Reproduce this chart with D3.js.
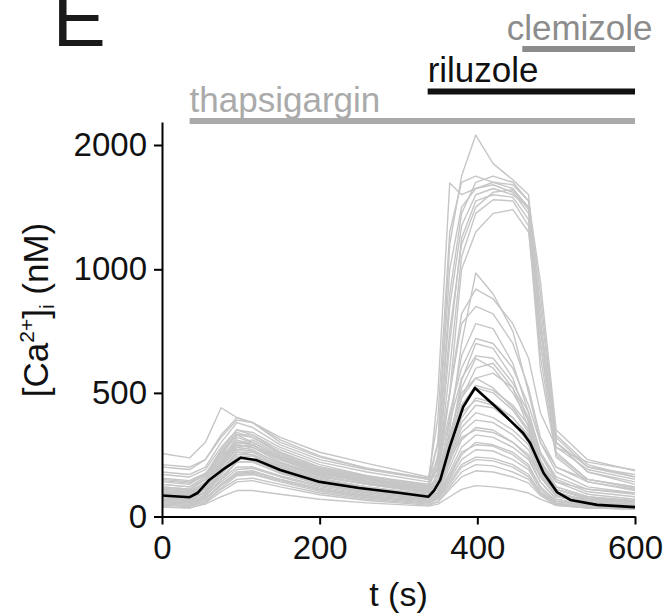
<!DOCTYPE html>
<html>
<head>
<meta charset="utf-8">
<script src="https://cdn.jsdelivr.net/npm/d3@7"></script>
<style>
  body { margin: 0; background: #fff; }
  svg { display: block; }
</style>
</head>
<body>
<svg id="chart" width="667" height="616"></svg>
<script>
// sample times (s) shared by every single-cell trace
const timePoints = [0, 35, 55, 75, 95, 115, 150, 200, 260, 338, 350, 365, 380, 398, 420, 445, 465, 480, 500, 540, 600];

// [Ca2+]i (nM) for cells with a large riluzole response
const bigCells = [
  [150, 140, 170, 260, 330, 300, 240, 190, 160, 130, 300, 1200, 1750, 2080, 1850, 1720, 1600, 800, 300, 200, 170],
  [120, 110, 150, 240, 310, 290, 230, 180, 150, 120, 500, 1695, 1600, 1650, 1700, 1650, 1500, 750, 280, 190, 150],
  [100, 95, 130, 220, 290, 280, 220, 170, 140, 110, 250, 900, 1450, 1700, 1750, 1700, 1550, 900, 320, 200, 160],
  [180, 170, 200, 300, 380, 360, 290, 230, 190, 150, 300, 1000, 1500, 1650, 1680, 1620, 1450, 700, 300, 180, 130],
  [80, 75, 110, 200, 280, 270, 210, 160, 130, 100, 180, 700, 1250, 1550, 1600, 1580, 1400, 650, 250, 150, 115],
  [130, 120, 160, 260, 340, 320, 260, 200, 160, 125, 230, 850, 1350, 1600, 1650, 1600, 1500, 850, 330, 210, 160],
  [90, 85, 120, 210, 300, 290, 230, 175, 140, 105, 170, 600, 1100, 1450, 1560, 1550, 1350, 600, 240, 140, 105],
  [200, 190, 230, 330, 400, 380, 300, 240, 195, 155, 400, 1300, 1700, 1750, 1700, 1680, 1550, 950, 350, 230, 185],
  [70, 65, 100, 180, 260, 250, 200, 150, 120, 90, 150, 500, 1000, 1300, 1450, 1480, 1300, 700, 260, 150, 120],
  [110, 100, 140, 230, 320, 300, 240, 185, 150, 115, 210, 750, 1200, 1500, 1620, 1640, 1480, 780, 300, 180, 140]
];

// cells with a medium riluzole response
const midCells = [
  [60, 55, 90, 170, 240, 230, 180, 130, 100, 75, 120, 350, 700, 985, 900, 750, 500, 300, 180, 120, 95],
  [140, 130, 170, 270, 350, 330, 260, 200, 165, 130, 200, 500, 780, 850, 820, 700, 520, 320, 200, 140, 110],
  [95, 90, 125, 210, 290, 280, 220, 165, 130, 95, 130, 400, 650, 780, 760, 620, 420, 260, 150, 100, 80],
  [170, 160, 190, 280, 350, 340, 280, 220, 180, 140, 190, 420, 600, 720, 700, 600, 450, 300, 200, 150, 120],
  [75, 70, 100, 180, 250, 250, 200, 150, 115, 85, 110, 300, 550, 700, 680, 560, 380, 220, 120, 80, 60],
  [120, 110, 150, 250, 330, 320, 255, 195, 155, 120, 150, 380, 560, 650, 640, 540, 420, 260, 160, 110, 90],
  [55, 50, 80, 150, 220, 220, 175, 130, 100, 70, 100, 280, 480, 600, 620, 520, 360, 200, 110, 70, 55],
  [255, 237, 300, 440, 400, 380, 320, 260, 215, 160, 220, 500, 820, 920, 880, 780, 640, 420, 280, 220, 188],
  [100, 95, 130, 220, 300, 290, 230, 175, 135, 100, 130, 330, 500, 560, 580, 520, 400, 250, 140, 90, 70]
];

// cells with a small riluzole response
const smallCells = [
  [40, 35, 50, 80, 105, 105, 90, 70, 55, 42, 50, 80, 110, 125, 120, 110, 95, 70, 45, 35, 30],
  [65, 60, 85, 150, 200, 200, 165, 125, 95, 70, 90, 180, 280, 330, 320, 280, 230, 140, 70, 45, 38],
  [85, 80, 110, 190, 260, 260, 205, 155, 120, 88, 110, 230, 360, 420, 400, 350, 290, 170, 85, 55, 45],
  [50, 45, 70, 130, 180, 185, 150, 110, 80, 58, 70, 150, 230, 270, 265, 230, 190, 110, 55, 38, 32],
  [115, 105, 135, 210, 270, 265, 215, 165, 130, 98, 120, 250, 400, 480, 460, 400, 320, 190, 95, 65, 55],
  [75, 70, 95, 160, 220, 225, 185, 140, 105, 78, 95, 200, 310, 360, 350, 300, 240, 140, 70, 48, 40],
  [155, 145, 175, 250, 300, 290, 235, 180, 145, 112, 130, 230, 320, 350, 340, 300, 250, 160, 90, 70, 60],
  [45, 40, 60, 110, 150, 155, 130, 95, 70, 50, 60, 120, 180, 210, 205, 180, 150, 90, 48, 35, 30],
  [95, 88, 120, 200, 280, 290, 235, 180, 140, 100, 120, 260, 430, 520, 500, 430, 340, 200, 100, 60, 50],
  [60, 55, 75, 130, 175, 180, 150, 115, 85, 62, 80, 160, 250, 300, 290, 260, 210, 120, 60, 42, 35],
  [130, 120, 150, 230, 300, 300, 245, 190, 150, 112, 140, 300, 480, 560, 520, 440, 350, 210, 110, 75, 62],
  [70, 65, 85, 140, 190, 195, 160, 120, 90, 66, 85, 170, 260, 290, 285, 250, 200, 120, 62, 44, 36],
  [105, 98, 130, 220, 300, 310, 250, 190, 150, 108, 130, 280, 450, 530, 510, 450, 370, 220, 110, 70, 58],
  [38, 34, 55, 100, 140, 145, 120, 88, 65, 46, 58, 110, 160, 185, 180, 160, 135, 85, 45, 34, 30],
  [210, 200, 230, 320, 390, 380, 310, 245, 195, 150, 170, 300, 420, 470, 450, 400, 330, 220, 140, 110, 95],
  [80, 75, 100, 170, 240, 245, 195, 145, 110, 82, 100, 220, 340, 390, 380, 330, 270, 160, 80, 52, 42],
  [55, 50, 70, 125, 170, 175, 145, 108, 80, 58, 75, 140, 210, 240, 235, 210, 170, 100, 52, 38, 32],
  [90, 84, 115, 200, 270, 280, 230, 175, 135, 96, 115, 240, 380, 450, 440, 380, 300, 180, 90, 58, 48],
  [145, 135, 165, 250, 330, 330, 270, 210, 165, 122, 150, 320, 520, 640, 600, 500, 390, 230, 120, 80, 65],
  [48, 44, 62, 115, 165, 170, 140, 102, 75, 54, 70, 130, 200, 230, 225, 200, 160, 95, 50, 36, 31]
];

// population mean trace
const meanTime = [0, 35, 45, 60, 80, 100, 120, 150, 200, 250, 300, 338, 345, 353, 365, 382, 397, 425, 458, 467, 484, 501, 518, 552, 600];
const meanCa = [85, 78, 95, 148, 196, 238, 228, 188, 140, 115, 96, 80, 105, 148, 282, 443, 520, 439, 338, 297, 176, 99, 67, 47, 38];

// drug applications (s)
const drugNames = ["thapsigargin", "riluzole", "clemizole"];
const drugStart = [35, 337, 457];
const drugEnd = [600, 600, 600];

const xTicks = [0, 200, 400, 600];
const yTicks = [0, 500, 1000, 2000];

const FONT = "'Liberation Sans', Arial, Helvetica, sans-serif";
const drugColor = ["#aaaaaa", "#111111", "#8c8c8c"];
const drugBarY = [121, 91.5, 49];
const drugTextY = [112, 82, 40];

const svg = d3.select("#chart");

// y axis is split: 0-1000 linear, 1000-2000 compressed to half
let x = d3.scaleLinear().domain([0, 600]).range([162, 635]),
    y = d3.scaleLinear().domain([0, 1000, 2185]).range([516.5, 269.3, 122]);

let line = d3.line()
    .x((d, i) => x(timePoints[i]))
    .y(d => y(d));

let traces = svg.append("g").attr("class", "traces");

traces.selectAll("path")
    .data(smallCells.concat(midCells, bigCells))
    .enter().append("path")
    .attr("d", d => line(d))
    .style("fill", "none")
    .style("stroke", "#c6c6c6")
    .style("stroke-width", 1.4)
    .style("stroke-linejoin", "round");

let meanLine = d3.line()
    .x((d, i) => x(meanTime[i]))
    .y(d => y(d));

svg.append("path")
    .attr("d", meanLine(meanCa))
    .style("fill", "none")
    .style("stroke", "#000")
    .style("stroke-width", 2.6)
    .style("stroke-linejoin", "round");

// axes
let xAxis = svg.append("g")
    .attr("transform", "translate(0," + y(0) + ")")
    .call(d3.axisBottom(x).tickValues(xTicks).tickFormat(d3.format("d"))
        .tickSize(8).tickSizeOuter(0).tickPadding(11));

let yAxis = svg.append("g")
    .attr("transform", "translate(" + x(0) + ",0)")
    .call(d3.axisLeft(y).tickValues(yTicks).tickFormat(d3.format("d"))
        .tickSize(8).tickSizeOuter(0).tickPadding(7));

[xAxis, yAxis].forEach(a => {
    a.selectAll("path, line").style("stroke", "#000").style("stroke-width", 2);
    a.selectAll("text")
        .style("font-family", FONT)
        .style("font-size", "33px")
        .style("fill", "#111");
});

svg.append("text")
    .attr("x", (x(0) + x(600)) / 2)
    .attr("y", 606)
    .attr("text-anchor", "middle")
    .style("font-family", FONT)
    .style("font-size", "34px")
    .style("fill", "#111")
    .text("t (s)");

let yLabel = svg.append("text")
    .attr("transform", "translate(48,310) rotate(-90)")
    .attr("text-anchor", "middle")
    .style("font-family", FONT)
    .style("font-size", "35px")
    .style("fill", "#111");
yLabel.append("tspan").text("[Ca");
yLabel.append("tspan").attr("dy", "-14").style("font-size", "21px").text("2+");
yLabel.append("tspan").attr("dy", "14").text("]");
yLabel.append("tspan").attr("dy", "6").style("font-size", "21px").text("i");
yLabel.append("tspan").attr("dy", "-6").text(" (nM)");

// drug bars
let drugs = svg.selectAll(".drug")
    .data(drugNames)
    .enter().append("g")
    .attr("class", "drug");

drugs.append("line")
    .attr("x1", (d, i) => x(drugStart[i]))
    .attr("x2", (d, i) => x(drugEnd[i]))
    .attr("y1", (d, i) => drugBarY[i])
    .attr("y2", (d, i) => drugBarY[i])
    .style("stroke", (d, i) => drugColor[i])
    .style("stroke-width", 6);

drugs.append("text")
    .attr("x", (d, i) => i === 2 ? (x(drugStart[i]) + x(drugEnd[i])) / 2 + 1 : x(drugStart[i]))
    .attr("y", (d, i) => drugTextY[i])
    .attr("text-anchor", (d, i) => i === 2 ? "middle" : "start")
    .style("font-family", FONT)
    .style("font-size", "35px")
    .style("fill", (d, i) => drugColor[i])
    .text(d => d);

// panel letter (cut off at the top, as in the figure)
svg.append("text")
    .attr("x", 52.5)
    .attr("y", 46)
    .style("font-family", FONT)
    .style("font-size", "80px")
    .style("fill", "#1a1a1a")
    .text("E");
</script>
</body>
</html>
